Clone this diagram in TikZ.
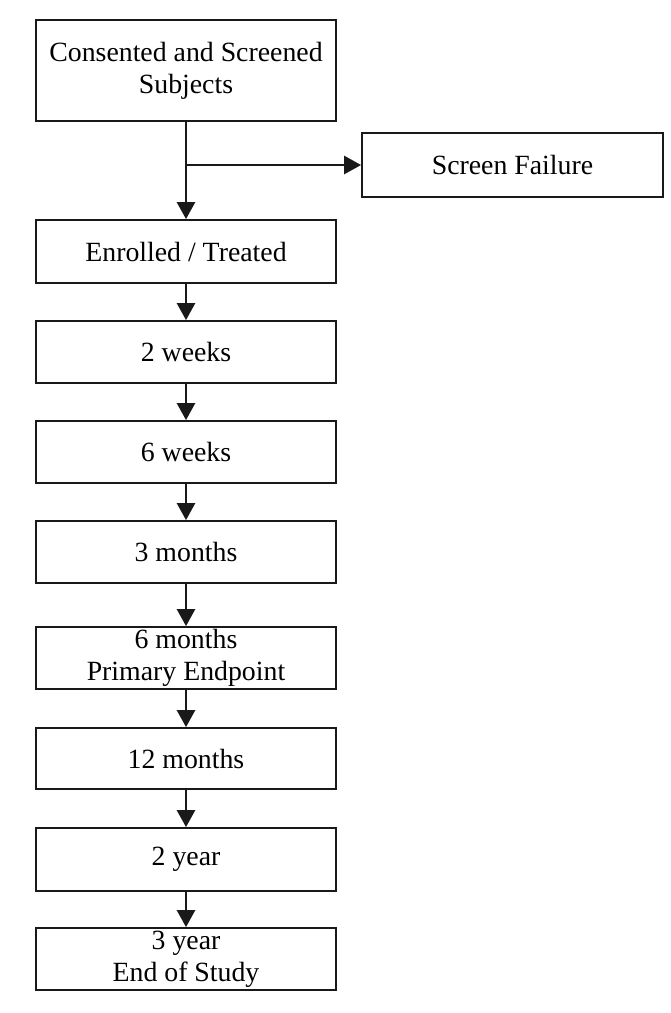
\documentclass[tikz,border=0pt]{standalone}
\usepackage{fontspec}
\setmainfont{Liberation Serif}
\usetikzlibrary{arrows.meta}
\begin{document}
\begin{tikzpicture}[x=1pt,y=-1pt,
  box/.style={draw=black!90,line width=1.8pt,rectangle,minimum width=300pt,inner sep=0pt,align=center,font=\fontsize{27.8}{32}\selectfont},
  conn/.style={draw=black!90,line width=2.7pt,-{Triangle[length=17pt,width=18pt]}}]
\useasboundingbox (0,0) rectangle (670,1013);
\node[box,minimum height=101pt] (c1) at (186,70.5) {Consented and Screened\\Subjects};
\node[box,minimum width=301pt,minimum height=64pt] (sf) at (512.5,165) {Screen Failure};
\node[box,minimum height=63pt] (enr) at (186,251.5) {Enrolled / Treated};
\node[box,minimum height=62pt] (w2) at (186,352) {2 weeks};
\node[box,minimum height=62pt] (w6) at (186,452) {6 weeks};
\node[box,minimum height=62pt] (m3) at (186,552) {3 months};
\node[box,minimum height=62pt] (m6) at (186,658) {6 months\\Primary Endpoint};
\node[box,minimum height=61pt] (m12) at (186,758.5) {12 months};
\node[box,minimum height=63pt] (y2) at (186,859.5) {2 year};
\node[box,minimum height=62pt] (y3) at (186,959) {3 year\\End of Study};
\coordinate (br) at (186,165);
\draw[conn] (c1.south) -- (enr.north);
\draw[conn] (br) -- (sf.west);
\draw[conn] (enr) -- (w2);
\draw[conn] (w2) -- (w6);
\draw[conn] (w6) -- (m3);
\draw[conn] (m3) -- (m6);
\draw[conn] (m6) -- (m12);
\draw[conn] (m12) -- (y2);
\draw[conn] (y2) -- (y3);
\end{tikzpicture}
\end{document}
